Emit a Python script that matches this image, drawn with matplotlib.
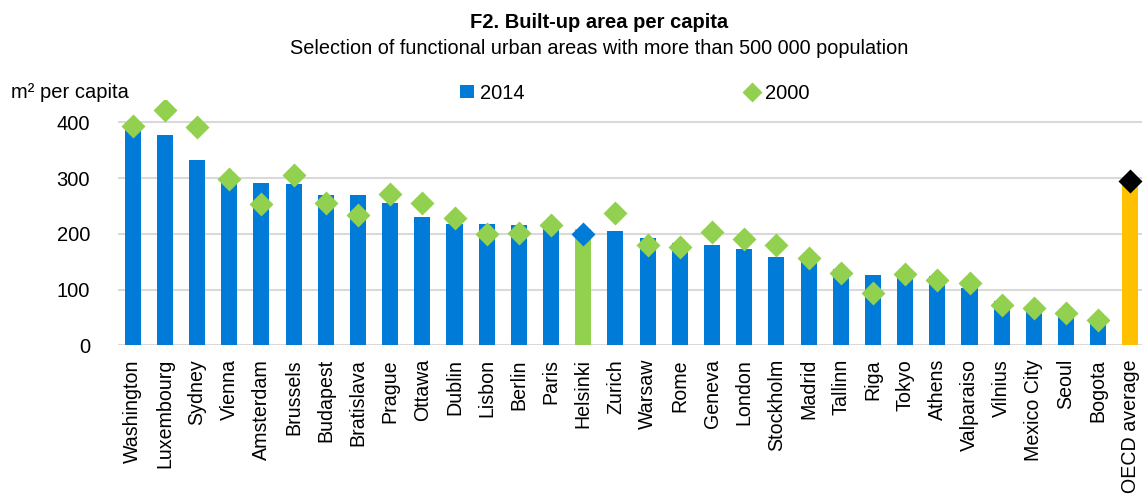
import matplotlib
matplotlib.use("Agg")
import matplotlib.pyplot as plt
from matplotlib.lines import Line2D
from matplotlib.patches import Patch

plt.rcParams['font.family'] = ['Liberation Sans', 'DejaVu Sans']

cities = ["Washington", "Luxembourg", "Sydney", "Vienna", "Amsterdam", "Brussels",
          "Budapest", "Bratislava", "Prague", "Ottawa", "Dublin", "Lisbon", "Berlin",
          "Paris", "Helsinki", "Zurich", "Warsaw", "Rome", "Geneva", "London",
          "Stockholm", "Madrid", "Tallinn", "Riga", "Tokyo", "Athens", "Valparaiso",
          "Vilnius", "Mexico City", "Seoul", "Bogota", "OECD average"]
v2014 = [399, 377, 333, 302, 292, 289, 270, 269, 256, 230, 217, 217, 215, 215, 208,
         206, 193, 184, 180, 172, 159, 150, 136, 126, 123, 125, 103, 80, 66, 54, 44, 293]
v2000 = [393, 422, 392, 298, 254, 305, 256, 234, 272, 255, 228, 200, 201, 216, 199,
         238, 180, 177, 203, 190, 180, 156, 130, 94, 127, 118, 112, 72, 67, 57, 45, 294]
yticks = [0, 100, 200, 300, 400]

BLUE = "#007BD8"
GREEN = "#92D050"
ORANGE = "#FFC000"

fig = plt.figure(figsize=(11.44, 4.96), dpi=100)
ax = fig.add_axes([0.103, 0.304, 0.895, 0.494])

x = list(range(len(cities)))
bar_colors = [BLUE] * len(cities)
bar_colors[cities.index("Helsinki")] = GREEN
bar_colors[cities.index("OECD average")] = ORANGE
dia_colors = [GREEN] * len(cities)
dia_colors[cities.index("Helsinki")] = BLUE
dia_colors[cities.index("OECD average")] = "black"

ax.bar(x, v2014, width=0.5, color=bar_colors, zorder=2)
for xi, yi, c in zip(x, v2000, dia_colors):
    ax.plot(xi, yi, marker="D", ms=12, color=c, mec="none", ls="none", zorder=3)

ax.set_ylim(0, 440)
ax.set_xlim(-0.46, len(cities) - 1 + 0.35)
ax.set_yticks(yticks)
ax.set_yticklabels([str(t) for t in yticks], fontsize=14.5)
ax.set_xticks(x)
ax.set_xticklabels(cities, rotation=90, fontsize=14.1, va="top", ha="center")
ax.tick_params(axis="both", length=0)
ax.tick_params(axis="y", pad=20)
ax.tick_params(axis="x", pad=10)
ax.grid(axis="y", color="#D9D9D9", lw=1.5, zorder=0)
for s in ax.spines.values():
    s.set_visible(False)
ax.axhline(0, color="#D9D9D9", lw=2, zorder=1)

fig.text(0.524, 0.955, "F2. Built-up area per capita", ha="center", va="center",
         fontsize=14.5, fontweight="bold")
fig.text(0.524, 0.903, "Selection of functional urban areas with more than 500 000 population",
         ha="center", va="center", fontsize=14.3)
fig.text(0.010, 0.813, "m² per capita", ha="left", va="center", fontsize=14.5)

handles = [Patch(facecolor=BLUE, edgecolor="none"),
           Line2D([], [], marker="D", ms=10, color=GREEN, mec="none", ls="none")]
fig.legend(handles, ["2014", "2000"], loc="center", bbox_to_anchor=(0.555, 0.812),
           ncol=2, frameon=False, fontsize=14.5, handlelength=0.65, handleheight=0.65,
           handletextpad=0.3, columnspacing=11.0)

fig.savefig("out.png", dpi=100)
